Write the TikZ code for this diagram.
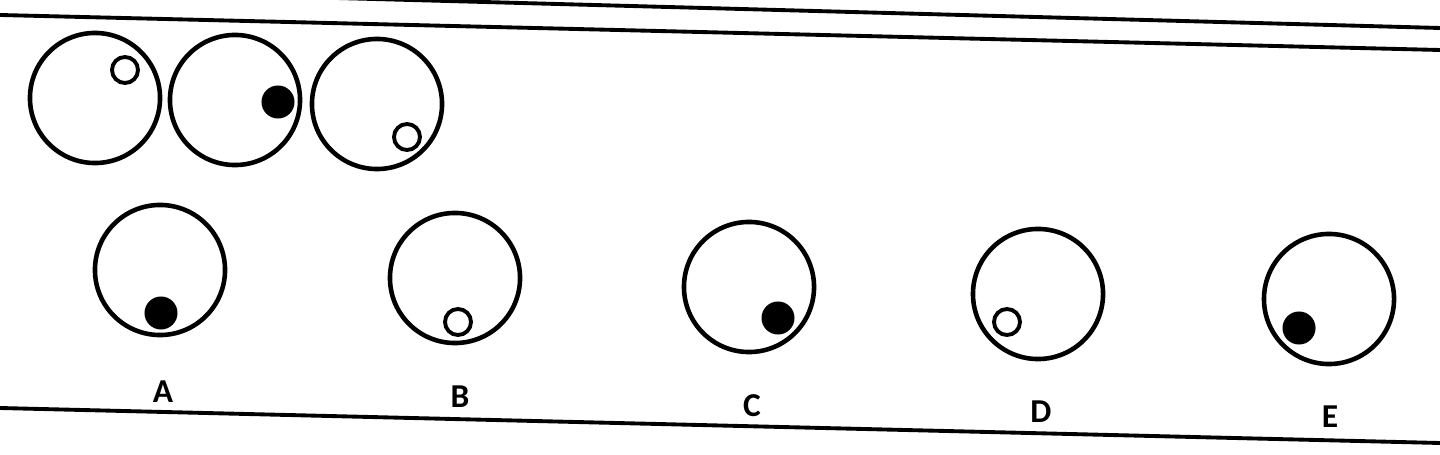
\documentclass[tikz,border=0pt]{standalone}
\usepackage{fontspec}
\setmainfont{Carlito}
\usepackage{tikz}

\tikzset{
  cell/.style={draw, circle, line width=1.3pt, inner sep=0pt, minimum size=1.30cm},
  holedot/.style={draw, circle, line width=1.1pt, fill=white, inner sep=0pt, minimum size=0.26cm},
  fulldot/.style={fill=black, circle, inner sep=0pt, minimum size=0.33cm},
  tag/.style={font=\fontsize{9.5}{10}\selectfont\bfseries, inner sep=0pt},
  rule/.style={line width=1.1pt}
}

\begin{document}
\begin{tikzpicture}[x=0.01cm, y=-0.01cm]
\useasboundingbox (0,0) rectangle (1440,455);
\clip (0,0) rectangle (1440,455);

% frame lines
\draw[rule] (300,-3) -- (1440,28);
\draw[rule] (0,15) -- (1440,50);
\draw[rule] (0,408) -- (1440,443);

% top row
\draw (95, 98) node[cell] (top1) {};
\draw (125, 70) node[holedot] (top1dot) {};
\draw (235, 100) node[cell] (top2) {};
\draw (278, 102) node[fulldot] (top2dot) {};
\draw (377, 104) node[cell] (top3) {};
\draw (407, 137) node[holedot] (top3dot) {};

% answer choices
\draw (160, 270) node[cell] (cellA) {};
\draw (161, 313) node[fulldot] (dotA) {};
\draw (163, 392) node[tag] (tagA) {A};

\draw (455, 278) node[cell] (cellB) {};
\draw (458, 322) node[holedot] (dotB) {};
\draw (460, 397) node[tag] (tagB) {B};

\draw (749, 287) node[cell] (cellC) {};
\draw (778, 318) node[fulldot] (dotC) {};
\draw (752, 406) node[tag] (tagC) {C};

\draw (1038, 294) node[cell] (cellD) {};
\draw (1007, 322) node[holedot] (dotD) {};
\draw (1041, 412) node[tag] (tagD) {D};

\draw (1329, 299) node[cell] (cellE) {};
\draw (1299, 328) node[fulldot] (dotE) {};
\draw (1330, 417) node[tag] (tagE) {E};
\end{tikzpicture}
\end{document}
